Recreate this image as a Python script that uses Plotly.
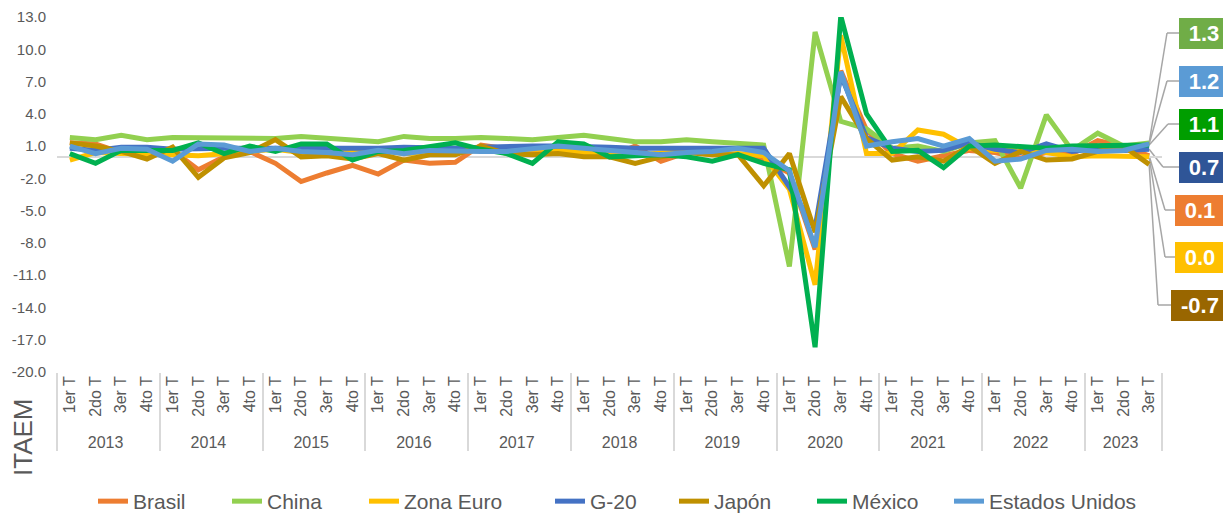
import plotly.graph_objects as go

# ---------------- data ----------------
years = ["2013", "2014", "2015", "2016", "2017", "2018", "2019", "2020", "2021", "2022", "2023"]
quarters = ["1er T", "2do T", "3er T", "4to T"]
n_last_year_quarters = 3

brasil = [1.3, 1.2, 0.4, 0.3, 0.6, -1.2, 0.0, 0.5, -0.6, -2.3, -1.5, -0.8,
          -1.6, -0.3, -0.6, -0.5, 1.1, 0.7, 0.4, 0.7, 0.6, 0.0, 1.0, -0.4,
          0.4, 0.5, 0.2, -0.2, -1.5, -8.6, 8.0, 2.5, 0.3, -0.4, 0.1, 0.6,
          0.4, -0.1, 0.4, 0.3, 1.5, 1.0, 0.1]
china = [1.8, 1.6, 2.0, 1.6, 1.8, 1.8, 1.8, 1.8, 1.7, 1.9, 1.7, 1.6,
         1.4, 1.9, 1.7, 1.7, 1.8, 1.7, 1.6, 1.8, 2.0, 1.7, 1.4, 1.4,
         1.6, 1.4, 1.3, 1.1, -10.2, 11.6, 3.3, 2.6, 0.8, 1.0, 0.5, 1.3,
         1.5, -2.9, 3.9, 0.6, 2.2, 1.0, 1.3]
zona_euro = [-0.3, 0.4, 0.3, 0.3, 0.2, 0.1, 0.3, 0.4, 0.7, 0.4, 0.3, 0.5,
             0.6, 0.3, 0.4, 0.6, 0.7, 0.7, 0.7, 0.7, 0.4, 0.4, 0.2, 0.3,
             0.5, 0.2, 0.3, 0.1, -3.0, -11.9, 11.3, 0.3, 0.3, 2.5, 2.1, 0.8,
             0.6, 0.8, 0.4, 0.0, 0.1, 0.1, 0.0]
g20 = [0.8, 0.6, 0.9, 0.9, 0.7, 0.8, 0.8, 0.8, 0.8, 0.8, 0.8, 0.7,
       0.8, 0.9, 0.8, 0.8, 0.9, 1.0, 1.0, 1.0, 1.0, 0.9, 0.8, 0.8,
       0.9, 0.8, 0.9, 0.8, -2.8, -6.6, 7.6, 1.8, 0.8, 0.5, 0.6, 1.3,
       0.7, 0.4, 1.2, 0.5, 0.8, 0.6, 0.7]
japon = [1.3, 1.0, 0.5, -0.2, 0.9, -1.9, -0.1, 0.4, 1.6, 0.0, 0.1, -0.2,
         0.3, -0.3, 0.2, 0.2, 1.0, 0.3, 0.2, 0.3, 0.0, 0.0, -0.6, 0.0,
         0.4, 0.2, 0.2, -2.7, 0.3, -7.0, 5.6, 1.7, -0.3, 0.0, -0.4, 1.0,
         -0.6, 0.5, -0.3, -0.2, 0.5, 1.0, -0.7]
mexico = [0.3, -0.6, 0.6, 0.6, 0.6, 1.3, 0.3, 1.0, 0.5, 1.2, 1.2, -0.3,
          0.5, 0.6, 1.0, 1.3, 0.7, 0.3, -0.6, 1.4, 1.2, 0.0, 0.1, 0.2,
          0.0, -0.4, 0.2, -0.6, -1.2, -17.7, 13.1, 4.0, 0.5, 0.6, -1.0, 1.0,
          1.1, 1.0, 0.8, 1.0, 1.0, 1.0, 1.1]
estados_unidos = [1.0, 0.3, 0.8, 0.7, -0.4, 1.2, 1.1, 0.5, 0.8, 0.5, 0.4, 0.2,
                  0.6, 0.3, 0.6, 0.5, 0.5, 0.5, 0.8, 1.0, 0.8, 0.6, 0.5, 0.2,
                  0.4, 0.5, 0.8, 0.4, -1.3, -8.4, 7.9, 1.0, 1.4, 1.7, 1.0, 1.7,
                  -0.4, -0.2, 0.6, 0.7, 0.5, 0.6, 1.2]

series_names = ["Brasil", "China", "Zona Euro", "G-20", "Japón", "México", "Estados Unidos"]
series_values = [brasil, china, zona_euro, g20, japon, mexico, estados_unidos]
series_colors = ["#ED7D31", "#92D050", "#FFC000", "#4472C4", "#BF9000", "#00B050", "#5B9BD5"]

y_ticks = [-20, -17, -14, -11, -8, -5, -2, 1, 4, 7, 10, 13]

# end-labels: series order (top to bottom), box colours
label_series = ["China", "Estados Unidos", "México", "G-20", "Brasil", "Zona Euro", "Japón"]
label_colors = ["#70AD47", "#5B9BD5", "#009E00", "#2F5597", "#ED7D31", "#FFC000", "#996600"]

# ---------------- layout constants (page pixel coords) ----------------
PAGE_W, PAGE_H = 1231, 517
OFF = 8                       # default body margin of the html page
PX0, PX1 = 57, 1162           # plot area left/right on page
PY0, PY1 = 17, 372            # plot area top/bottom on page
W, H = PAGE_W - OFF, PAGE_H - OFF
L, T = PX0 - OFF, PY0 - OFF
plot_w, plot_h = PX1 - PX0, PY1 - PY0
R, B = W - L - plot_w, H - T - plot_h
y_min, y_max = -20, 13
grey = "#595959"
font_family = "Liberation Sans, Arial, sans-serif"

def px_to_paper_x(px):
    return (px - PX0) / plot_w

def py_to_paper_y(py):
    return (PY1 - py) / plot_h

def py_to_data_y(py):
    return y_max - (py - PY0) / plot_h * (y_max - y_min)

# x categories (multicategory)
x_year, x_q = [], []
for yi, yr in enumerate(years):
    nq = n_last_year_quarters if yi == len(years) - 1 else 4
    for q in quarters[:nq]:
        x_year.append(yr)
        x_q.append(q)
n_pts = len(x_q)

# legend entry text start positions on the page (one legend per series)
legend_text_px = [133, 267, 404, 590, 714, 852, 989]
legend_names = ["legend", "legend2", "legend3", "legend4", "legend5", "legend6", "legend7"]

fig = go.Figure()
for name, vals, col, lg in zip(series_names, series_values, series_colors, legend_names):
    fig.add_trace(go.Scatter(
        x=[x_year, x_q], y=vals, name=name, mode="lines",
        line=dict(color=col, width=5, shape="linear"), legend=lg,
    ))

# end labels with leader lines
label_box_py = [33, 81, 124, 167, 210, 257, 305]
label_elbow_px = [1167, 1167, 1168, 1163, 1165, 1165, 1158]
label_box_left_px = [1179, 1179, 1179, 1179, 1175, 1175, 1171]
label_box_w = [50, 50, 50, 50, 50, 50, 58]

x_last = (n_pts - 1 + 0.5) / n_pts
shapes = []
annotations = []
for sname, bcol, bpy, epx, blpx, bw in zip(label_series, label_colors, label_box_py,
                                           label_elbow_px, label_box_left_px, label_box_w):
    vals = series_values[series_names.index(sname)]
    last = vals[-1]
    ly = py_to_data_y(bpy)
    shapes.append(dict(type="line", xref="paper", yref="y",
                       x0=x_last, y0=last, x1=px_to_paper_x(epx), y1=ly,
                       line=dict(color="#A6A6A6", width=1.5), layer="below"))
    shapes.append(dict(type="line", xref="paper", yref="y",
                       x0=px_to_paper_x(epx), y0=ly, x1=px_to_paper_x(blpx), y1=ly,
                       line=dict(color="#A6A6A6", width=1.5), layer="below"))
    txt = f"{last:.1f}"
    if txt == "-0.0":
        txt = "0.0"
    annotations.append(dict(
        xref="paper", yref="y", x=px_to_paper_x(blpx + bw / 2), y=ly,
        text=f"<b>{txt}</b>", showarrow=False,
        font=dict(family=font_family, size=22, color="white"),
        bgcolor=bcol, bordercolor=bcol, borderwidth=0, borderpad=2,
        width=bw - 4, height=27, xanchor="center", yanchor="middle",
    ))

# y-axis title placed at bottom left
annotations.append(dict(
    xref="paper", yref="paper", x=px_to_paper_x(23), y=py_to_paper_y(437),
    text="ITAEM", textangle=-90, showarrow=False,
    font=dict(family=font_family, size=26, color=grey),
    xanchor="center", yanchor="middle",
))

legend_layouts = {}
for lg, tpx in zip(legend_names, legend_text_px):
    legend_layouts[lg] = dict(
        orientation="h", x=px_to_paper_x(tpx - 40), xanchor="left",
        y=py_to_paper_y(PAGE_H + 5), yanchor="bottom",
        font=dict(family=font_family, size=21, color=grey),
        bgcolor="rgba(0,0,0,0)", borderwidth=0,
    )

fig.update_layout(
    width=W, height=H, autosize=False,
    margin=dict(l=L, r=R, t=T, b=B, pad=0, autoexpand=False),
    paper_bgcolor="white", plot_bgcolor="white",
    font=dict(family=font_family, color=grey, size=15),
    showlegend=True,
    shapes=shapes,
    annotations=annotations,
    xaxis=dict(
        type="multicategory", range=[-0.5, n_pts - 0.5],
        showgrid=False, zeroline=False, showline=False,
        ticks="", tickangle=-90, tickfont=dict(size=16, color=grey),
        showdividers=True, dividercolor="#D9D9D9", dividerwidth=2,
        automargin=False,
    ),
    yaxis=dict(
        range=[y_min, y_max], tickvals=y_ticks, ticktext=[f"{v:.1f}" for v in y_ticks],
        showgrid=False, zeroline=True, zerolinecolor="#D9D9D9", zerolinewidth=2,
        showline=False, ticks="", tickfont=dict(size=15, color=grey),
        ticklabelstandoff=10, automargin=False, ticklabeloverflow="allow",
    ),
    **legend_layouts,
)

fig.write_html("out.html")
